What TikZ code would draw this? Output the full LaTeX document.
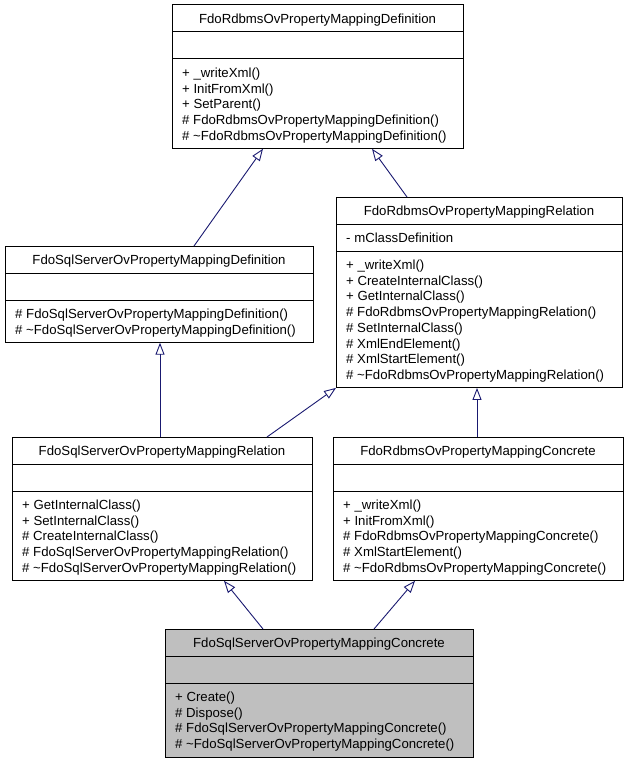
\documentclass[tikz,border=0pt]{standalone}
\usepackage{fontspec}
\setmainfont{Liberation Sans}
\usetikzlibrary{calc,arrows.meta}
\definecolor{edgeblue}{HTML}{191970}
\definecolor{boxgray}{HTML}{BFBFBF}
\newcommand\classlines[2]{%
  \foreach \t [count=\i from 0] in {#2} {%
    \node[mline] (#1m\i) at ($(#1.north west)+(10,72.5+15.7*\i)$) {\t};}}
\newcommand\classtitle[2]{%
  \node[tline] (#1t) at ($(#1.north)+(0,18.5)$) {#2};
  \draw[sepline] ($(#1.north west)+(0,27)$) -- ($(#1.north east)+(0,27)$);
  \draw[sepline] ($(#1.north west)+(0,54)$) -- ($(#1.north east)+(0,54)$);}
\begin{document}
\begin{tikzpicture}[x=1pt,y=-1pt,
  umlbox/.style={draw=black,line width=1pt,anchor=north west,inner sep=0pt,outer sep=0pt,fill=white},
  mline/.style={anchor=base west,inner sep=0pt,font=\fontsize{13.2}{15.7}\selectfont},
  tline/.style={anchor=base,inner sep=0pt,font=\fontsize{13.2}{15.7}\selectfont},
  sepline/.style={line width=1pt},
  inh/.style={draw=edgeblue,line width=0.9pt,-{Triangle[open,length=12pt,width=9pt]}}]
\useasboundingbox (0,0) rectangle (626,762);
% boxes
\node[umlbox,minimum width=291pt,minimum height=143.8pt] (b1) at (172,5) {};
\node[umlbox,minimum width=308pt,minimum height=96.7pt] (b2) at (5,246) {};
\node[umlbox,minimum width=286pt,minimum height=190.9pt] (b3) at (336,197) {};
\node[umlbox,minimum width=300pt,minimum height=143.8pt] (b4) at (12,437) {};
\node[umlbox,minimum width=290pt,minimum height=143.8pt] (b5) at (333,437) {};
\node[umlbox,fill=boxgray,minimum width=308pt,minimum height=128.1pt] (b6) at (165,629) {};
% titles and separators
\classtitle{b1}{FdoRdbmsOvPropertyMappingDefinition}
\classtitle{b2}{FdoSqlServerOvPropertyMappingDefinition}
\classtitle{b3}{FdoRdbmsOvPropertyMappingRelation}
\classtitle{b4}{FdoSqlServerOvPropertyMappingRelation}
\classtitle{b5}{FdoRdbmsOvPropertyMappingConcrete}
\classtitle{b6}{FdoSqlServerOvPropertyMappingConcrete}
\node[mline] (b3a) at ($(b3.north west)+(10,45.5)$) {- mClassDefinition};
% members
\classlines{b1}{+ \_writeXml(), + InitFromXml(), + SetParent(), \# FdoRdbmsOvPropertyMappingDefinition(), \# \textasciitilde FdoRdbmsOvPropertyMappingDefinition()}
\classlines{b2}{\# FdoSqlServerOvPropertyMappingDefinition(), \# \textasciitilde FdoSqlServerOvPropertyMappingDefinition()}
\classlines{b3}{+ \_writeXml(), + CreateInternalClass(), + GetInternalClass(), \# FdoRdbmsOvPropertyMappingRelation(), \# SetInternalClass(), \# XmlEndElement(), \# XmlStartElement(), \# \textasciitilde FdoRdbmsOvPropertyMappingRelation()}
\classlines{b4}{+ GetInternalClass(), + SetInternalClass(), \# CreateInternalClass(), \# FdoSqlServerOvPropertyMappingRelation(), \# \textasciitilde FdoSqlServerOvPropertyMappingRelation()}
\classlines{b5}{+ \_writeXml(), + InitFromXml(), \# FdoRdbmsOvPropertyMappingConcrete(), \# XmlStartElement(), \# \textasciitilde FdoRdbmsOvPropertyMappingConcrete()}
\classlines{b6}{+ Create(), \# Dispose(), \# FdoSqlServerOvPropertyMappingConcrete(), \# \textasciitilde FdoSqlServerOvPropertyMappingConcrete()}
% inheritance connectors
\draw[inh] ($(b2.north west)+(189,0)$) -- ($(b1.south west)+(91,0)$);
\draw[inh] ($(b3.north west)+(71,0)$) -- ($(b1.south west)+(200,0)$);
\draw[inh] ($(b4.north west)+(148,0)$) -- ($(b2.south west)+(155,0)$);
\draw[inh] ($(b4.north west)+(255,0)$) -- (b3.south west);
\draw[inh] ($(b5.north west)+(144,0)$) -- ($(b3.south west)+(141,0)$);
\draw[inh] ($(b6.north west)+(98,0)$) -- ($(b4.south west)+(212,0)$);
\draw[inh] ($(b6.north west)+(209,0)$) -- ($(b5.south west)+(82,0)$);
\end{tikzpicture}
\end{document}
